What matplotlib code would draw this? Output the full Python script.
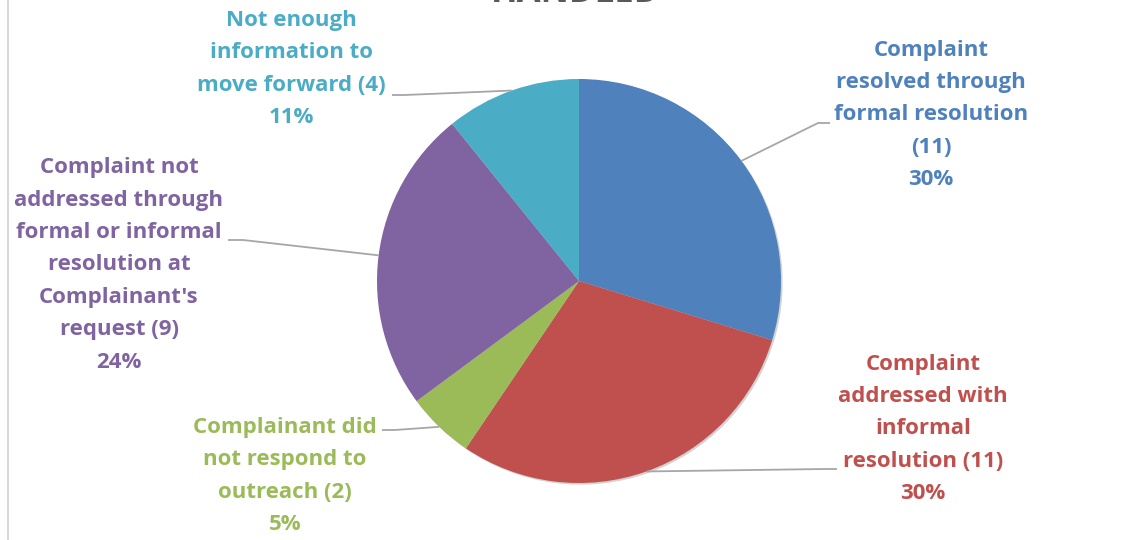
import numpy as np
import matplotlib
matplotlib.use("Agg")
import matplotlib.pyplot as plt
from matplotlib.lines import Line2D

# --------------------------------------------------------------------------- #
# Data
# --------------------------------------------------------------------------- #
labels = [
    "Complaint\nresolved through\nformal resolution\n({n})",
    "Complaint\naddressed with\ninformal\nresolution ({n})",
    "Complainant did\nnot respond to\noutreach ({n})",
    "Complaint not\naddressed through\nformal or informal\nresolution at\nComplainant's\nrequest ({n})",
    "Not enough\ninformation to\nmove forward ({n})",
]
counts = [11, 11, 2, 9, 4]
colors = ["#4F81BD", "#C0504D", "#9BBB59", "#8064A2", "#4BACC6"]
title = "HANDLED"

# --------------------------------------------------------------------------- #
# Layout (pixel space, y measured from top of image)
# --------------------------------------------------------------------------- #
W, H = 1139, 540
CX, CY, R = 579, 281, 202
# label block centre and leader-line elbow/start, per slice
label_xy = [(931, 115), (923, 429), (285, 476), (119, 265), (291, 69)]
leader_pts = [[(830, 123), (818, 123)],
              [(837, 469), (825, 469)],
              [(382, 430), (395, 430)],
              [(228, 240), (243, 240)],
              [(392, 95), (405, 95)]]


def y_(py):
    return H - py


plt.rcParams['font.family'] = ['Open Sans', 'DejaVu Sans']

fig = plt.figure(figsize=(W / 100, H / 100), dpi=100)
ax = fig.add_axes([0, 0, 1, 1])

wedges, _ = ax.pie(counts, colors=colors, startangle=90, counterclock=False,
                   center=(CX, y_(CY)), radius=R,
                   shadow={'ox': 1.2, 'oy': -1.2, 'shade': 0.9, 'alpha': 0.18},
                   wedgeprops=dict(linewidth=0))

total = sum(counts)
for w, lab, n, col, (lx, ly), pts in zip(wedges, labels, counts, colors,
                                         label_xy, leader_pts):
    pct = round(100 * n / total)
    ax.text(lx, y_(ly), lab.format(n=n) + f"\n{pct}%", ha='center', va='center',
            color=col, fontsize=16, fontweight='bold', linespacing=1.71)
    mid = np.deg2rad((w.theta1 + w.theta2) / 2)
    ex, ey = CX + R * np.cos(mid), y_(CY) + R * np.sin(mid)
    xs = [p[0] for p in pts] + [ex]
    ys = [y_(p[1]) for p in pts] + [ey]
    ax.plot(xs, ys, color='#A6A6A6', lw=1.3, zorder=5, solid_capstyle='butt')

# title sits mostly above the visible area; only its lower edge shows
ax.text(576, y_(1.5), title, ha='center', va='baseline', color='#595959',
        fontsize=25, fontweight='bold')

ax.set_xlim(0, W)
ax.set_ylim(0, H)
ax.axis('off')

fig.add_artist(Line2D([7.5 / W, 7.5 / W], [0, 1], color='#D9D9D9', lw=1.5,
                      transform=fig.transFigure))

fig.savefig("out.png", dpi=100)
